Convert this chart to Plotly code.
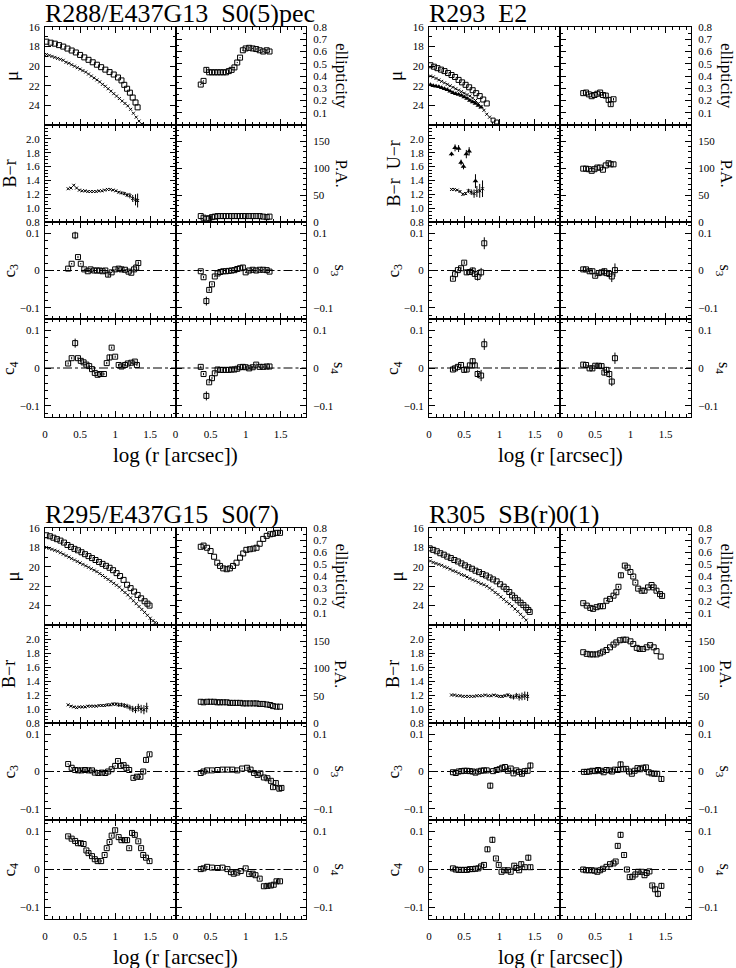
import plotly.graph_objects as go

W, H = 736, 968
SERIF = "Liberation Serif, DejaVu Serif, serif"

# ======================= R288/E437G13 S0(5)pec =======================
r288_mu_sq_x = [0.02,0.08,0.14,0.2,0.26,0.32,0.38,0.44,0.5,0.56,0.62,0.68,0.74,0.8,0.86,0.92,0.98,1.04,1.09,1.13,1.17,1.21,1.25,1.29,1.32]
r288_mu_sq = [17.5,17.6,17.7,17.85,18.0,18.2,18.4,18.6,18.85,19.1,19.35,19.6,19.85,20.1,20.35,20.6,20.85,21.15,21.45,21.9,22.3,22.7,23.2,23.7,24.2]
r288_mu_cr_x = [0.02,0.06,0.10,0.14,0.18,0.22,0.26,0.30,0.34,0.38,0.42,0.46,0.50,0.54,0.58,0.62,0.66,0.70,0.74,0.78,0.82,0.86,0.90,0.94,0.98,1.02,1.06,1.10,1.14,1.18,1.22,1.26,1.30,1.34,1.38]
r288_mu_cr = [18.8,18.9,19.0,19.1,19.2,19.3,19.4,19.6,19.7,19.85,20.0,20.15,20.3,20.45,20.6,20.8,21.0,21.2,21.4,21.6,21.85,22.05,22.3,22.55,22.8,23.05,23.3,23.55,23.8,24.05,24.4,24.8,25.2,25.6,25.9]
r288_ell_x = [0.36,0.40,0.44,0.48,0.52,0.56,0.60,0.64,0.68,0.72,0.76,0.80,0.84,0.88,0.92,0.96,1.00,1.05,1.10,1.15,1.20,1.25,1.30,1.34]
r288_ell = [0.33,0.36,0.45,0.43,0.43,0.43,0.43,0.43,0.43,0.43,0.44,0.45,0.47,0.51,0.55,0.61,0.625,0.63,0.625,0.62,0.61,0.60,0.61,0.60]
r288_ell_err = [0.005,0.005,0.02,0.005,0.005,0.005,0.005,0.005,0.005,0.005,0.005,0.005,0.005,0.005,0.005,0.005,0.005,0.005,0.005,0.005,0.005,0.005,0.005,0.005]
r288_pa = [11,8,6,7,9,10,11,11,11,11,11,11,11,11,11,11,11,11,11,11,11,10,9,10]
r288_br_x = [0.33,0.37,0.41,0.45,0.49,0.53,0.57,0.61,0.65,0.69,0.73,0.77,0.81,0.85,0.89,0.93,0.97,1.01,1.05,1.09,1.13,1.17,1.21,1.25,1.29,1.32]
r288_br = [1.28,1.29,1.33,1.29,1.26,1.25,1.25,1.24,1.24,1.24,1.24,1.25,1.25,1.26,1.27,1.27,1.26,1.25,1.23,1.22,1.21,1.19,1.18,1.14,1.12,1.11]
r288_br_err = [0.005,0.005,0.005,0.005,0.005,0.005,0.005,0.005,0.005,0.005,0.005,0.005,0.005,0.005,0.005,0.005,0.005,0.01,0.015,0.02,0.025,0.03,0.04,0.05,0.08,0.1]
r288_c3_x = [0.33,0.38,0.43,0.47,0.51,0.56,0.61,0.65,0.70,0.74,0.78,0.82,0.86,0.90,0.95,1.00,1.05,1.09,1.14,1.19,1.23,1.27,1.30,1.33]
r288_c3 = [0.005,0.018,0.094,0.036,0.018,0.003,-0.002,0.003,0.0,0.0,0.0,-0.002,0.0,-0.011,-0.005,0.003,0.005,0.003,0.002,-0.003,-0.006,0.003,0.008,0.02]
r288_c3_err = [0.002,0.002,0.01,0.003,0.002,0.002,0.002,0.002,0.002,0.002,0.002,0.002,0.002,0.007,0.002,0.002,0.002,0.002,0.002,0.002,0.002,0.002,0.003,0.004]
r288_s3 = [-0.002,-0.018,-0.082,-0.052,-0.037,-0.016,-0.008,-0.004,-0.002,-0.002,-0.001,0.0,0.001,0.004,0.006,0.008,-0.005,0.0,0.002,0.0,0.002,0.002,0.001,-0.003]
r288_s3_err = [0.002,0.003,0.012,0.004,0.003,0.002,0.002,0.002,0.002,0.002,0.002,0.002,0.002,0.002,0.002,0.006,0.002,0.002,0.002,0.002,0.002,0.002,0.002,0.002]
r288_c4_x = [0.33,0.38,0.43,0.47,0.51,0.55,0.59,0.63,0.67,0.71,0.75,0.79,0.84,0.88,0.92,0.95,1.00,1.05,1.09,1.14,1.18,1.23,1.28,1.31]
r288_c4 = [0.012,0.026,0.066,0.026,0.019,0.015,0.009,0.005,-0.003,-0.013,-0.018,-0.016,-0.016,0.013,0.028,0.054,0.030,0.008,0.004,0.008,0.012,0.014,0.017,0.008]
r288_c4_err = [0.003,0.003,0.012,0.003,0.003,0.003,0.003,0.003,0.003,0.003,0.003,0.003,0.003,0.003,0.008,0.003,0.003,0.003,0.003,0.003,0.003,0.003,0.003,0.003]
r288_s4 = [0.003,-0.016,-0.074,-0.038,-0.027,-0.014,-0.004,-0.005,-0.005,-0.005,-0.005,-0.004,-0.004,-0.002,0.002,0.003,0.002,-0.001,0.002,0.009,0.003,0.003,0.004,0.004]
r288_s4_err = [0.003,0.003,0.012,0.003,0.003,0.003,0.003,0.003,0.003,0.003,0.003,0.003,0.003,0.003,0.003,0.003,0.003,0.003,0.003,0.003,0.003,0.003,0.003,0.003]

# ======================= R293 E2 =======================
r293_mu_sq_x = [0.02,0.07,0.12,0.17,0.22,0.27,0.32,0.37,0.42,0.47,0.52,0.57,0.62,0.67,0.72,0.77,0.82]
r293_mu_sq = [19.9,20.05,20.2,20.35,20.5,20.7,20.9,21.1,21.4,21.65,21.9,22.15,22.45,22.75,23.05,23.4,23.8]
r293_mu_cr_x = [0.02,0.06,0.10,0.14,0.18,0.22,0.26,0.30,0.34,0.38,0.42,0.46,0.50,0.54,0.58,0.62,0.66,0.70,0.74,0.78,0.82,0.86]
r293_mu_cr = [21.0,21.1,21.25,21.4,21.55,21.7,21.85,22.0,22.15,22.3,22.45,22.6,22.75,22.9,23.05,23.25,23.5,23.8,24.15,24.5,24.9,25.2]
r293_mu_ext_x = [0.91,0.96]
r293_mu_ext = [25.5,25.7]
r293_mu_tr_x = [0.02,0.06,0.10,0.14,0.18,0.22,0.26,0.30,0.34,0.38,0.42,0.46,0.50,0.54,0.58,0.62,0.66,0.70,0.74]
r293_mu_tr = [21.9,22.0,22.05,22.1,22.2,22.3,22.4,22.55,22.7,22.8,22.9,23.0,23.15,23.3,23.5,23.65,23.8,24.0,24.2]
r293_ell_x = [0.33,0.37,0.41,0.45,0.49,0.53,0.57,0.61,0.65,0.69,0.72,0.76]
r293_ell = [0.26,0.265,0.25,0.235,0.245,0.255,0.265,0.245,0.24,0.205,0.17,0.21]
r293_ell_err = [0.005,0.005,0.005,0.005,0.005,0.005,0.005,0.008,0.01,0.02,0.015,0.01]
r293_pa = [99,99,98,95,98,101,101,97,105,109,107,107]
r293_br_x = [0.32,0.36,0.40,0.44,0.48,0.52,0.56,0.60,0.64,0.68,0.72,0.76]
r293_br = [1.27,1.27,1.26,1.24,1.20,1.21,1.25,1.23,1.21,1.24,1.25,1.28]
r293_br_err = [0.01,0.01,0.01,0.015,0.02,0.02,0.03,0.04,0.06,0.08,0.1,0.12]
r293_ur_x = [0.32,0.37,0.42,0.455,0.49,0.53,0.57,0.66]
r293_ur = [1.78,1.87,1.86,1.66,1.60,1.78,1.82,1.39]
r293_ur_err = [0.03,0.05,0.05,0.04,0.04,0.06,0.06,0.1]
r293_c3_x = [0.34,0.37,0.41,0.455,0.50,0.535,0.58,0.62,0.65,0.69,0.74,0.785]
r293_c3 = [-0.022,-0.01,0.001,0.006,0.021,-0.005,-0.004,0.0,-0.009,-0.017,-0.005,0.073]
r293_c3_err = [0.003,0.003,0.003,0.004,0.004,0.006,0.006,0.008,0.008,0.01,0.012,0.016]
r293_s3_x = [0.33,0.37,0.42,0.46,0.50,0.55,0.59,0.63,0.66,0.70,0.735,0.78]
r293_s3 = [0.003,0.003,-0.002,-0.002,-0.014,-0.007,-0.005,-0.002,-0.007,-0.009,-0.016,0.001]
r293_s3_err = [0.003,0.003,0.003,0.003,0.004,0.005,0.006,0.008,0.008,0.01,0.015,0.018]
r293_c4 = [-0.004,-0.001,0.003,0.008,-0.005,-0.004,0.007,0.018,0.007,-0.016,-0.02,0.063]
r293_c4_err = [0.003,0.003,0.003,0.004,0.005,0.005,0.006,0.008,0.008,0.01,0.015,0.015]
r293_s4 = [0.009,0.008,-0.001,-0.001,0.006,0.006,0.005,-0.012,-0.005,-0.016,-0.036,0.026]
r293_s4_err = [0.003,0.003,0.003,0.004,0.005,0.005,0.006,0.008,0.008,0.01,0.012,0.015]

# ======================= R295/E437G15 S0(7) =======================
r295_mu_sq_x = [0.02,0.07,0.12,0.17,0.22,0.27,0.32,0.37,0.42,0.47,0.52,0.57,0.62,0.67,0.72,0.77,0.82,0.87,0.92,0.97,1.02,1.07,1.12,1.17,1.22,1.27,1.32,1.37,1.42,1.46,1.49]
r295_mu_sq = [16.75,16.85,17.0,17.15,17.3,17.5,17.75,17.95,18.15,18.3,18.5,18.7,18.9,19.1,19.3,19.5,19.7,19.9,20.1,20.35,20.65,20.95,21.35,21.85,22.2,22.55,22.9,23.25,23.55,23.8,24.0]
r295_mu_cr_x = [0.02,0.06,0.10,0.14,0.18,0.22,0.26,0.30,0.34,0.38,0.42,0.46,0.50,0.54,0.58,0.62,0.66,0.70,0.74,0.78,0.82,0.86,0.90,0.94,0.98,1.02,1.06,1.10,1.14,1.18,1.22,1.26,1.30,1.34,1.38,1.42,1.46,1.50,1.54,1.57]
r295_mu_cr = [18.0,18.1,18.2,18.3,18.4,18.55,18.7,18.85,19.0,19.15,19.3,19.45,19.6,19.75,19.9,20.05,20.2,20.35,20.5,20.7,20.9,21.1,21.3,21.5,21.7,21.9,22.1,22.4,22.65,22.9,23.2,23.5,23.8,24.1,24.4,24.7,25.0,25.3,25.55,25.75]
r295_ell_x = [0.36,0.40,0.45,0.50,0.55,0.595,0.635,0.68,0.73,0.775,0.82,0.87,0.92,0.965,1.01,1.06,1.11,1.155,1.20,1.25,1.30,1.35,1.39,1.44,1.49]
r295_ell = [0.645,0.655,0.637,0.61,0.563,0.514,0.487,0.467,0.46,0.467,0.487,0.514,0.555,0.59,0.62,0.625,0.63,0.637,0.67,0.71,0.735,0.748,0.752,0.76,0.76]
r295_pa = [39,38,39,39,39,38,38,38,38,37,37,37,37,36,36,36,36,36,35,35,34,33,31,30,30]
r295_br_x = [0.33,0.37,0.41,0.45,0.49,0.53,0.57,0.61,0.65,0.69,0.73,0.77,0.81,0.85,0.89,0.93,0.97,1.01,1.05,1.09,1.13,1.17,1.21,1.25,1.29,1.33,1.37,1.41,1.45]
r295_br = [1.06,1.04,1.03,1.02,1.03,1.03,1.03,1.04,1.04,1.04,1.04,1.05,1.05,1.05,1.06,1.06,1.07,1.07,1.06,1.06,1.05,1.04,1.02,1.0,0.99,1.02,1.0,0.99,1.02]
r295_br_err = [0.01,0.01,0.01,0.01,0.01,0.01,0.01,0.01,0.01,0.01,0.01,0.01,0.015,0.015,0.02,0.02,0.025,0.025,0.03,0.03,0.035,0.035,0.04,0.045,0.05,0.055,0.06,0.065,0.07]
r295_c3_x = [0.33,0.38,0.43,0.47,0.52,0.57,0.62,0.67,0.71,0.76,0.81,0.86,0.90,0.95,1.00,1.04,1.08,1.12,1.16,1.20,1.26,1.31,1.36,1.40,1.44,1.49]
r295_c3 = [0.02,0.01,0.004,0.003,0.003,0.004,0.003,0.003,-0.003,-0.004,-0.003,-0.004,0.0,0.006,0.015,0.028,0.015,0.017,0.01,0.004,-0.017,-0.014,-0.014,0.0,0.031,0.046]
r295_c3_err = [0.002,0.002,0.002,0.002,0.002,0.002,0.002,0.002,0.002,0.002,0.002,0.002,0.002,0.002,0.002,0.003,0.002,0.002,0.002,0.002,0.003,0.003,0.003,0.004,0.006,0.005]
r295_s3_x = [0.36,0.40,0.45,0.52,0.60,0.67,0.74,0.81,0.88,0.95,1.02,1.07,1.12,1.17,1.21,1.26,1.31,1.36,1.39,1.43,1.48,1.51]
r295_s3 = [-0.004,0.0,0.003,0.003,0.004,0.005,0.005,0.005,0.003,0.008,0.01,0.005,-0.004,-0.009,-0.005,-0.016,-0.018,-0.025,-0.042,-0.031,-0.046,-0.044]
r295_s3_err = [0.002,0.002,0.002,0.002,0.002,0.002,0.002,0.002,0.002,0.002,0.003,0.003,0.003,0.003,0.003,0.003,0.004,0.004,0.005,0.005,0.005,0.005]
r295_c4_x = [0.33,0.38,0.43,0.47,0.51,0.55,0.59,0.62,0.67,0.71,0.75,0.80,0.85,0.88,0.92,0.95,1.00,1.05,1.09,1.14,1.17,1.20,1.24,1.28,1.33,1.37,1.40,1.44,1.49]
r295_c4 = [0.087,0.081,0.075,0.069,0.069,0.067,0.05,0.043,0.035,0.027,0.022,0.022,0.038,0.056,0.072,0.089,0.103,0.085,0.077,0.077,0.077,0.056,0.096,0.091,0.074,0.056,0.038,0.031,0.022]
r295_c4_err = [0.003,0.003,0.003,0.003,0.003,0.003,0.003,0.003,0.003,0.003,0.003,0.003,0.003,0.003,0.003,0.003,0.005,0.003,0.003,0.003,0.003,0.003,0.006,0.006,0.003,0.003,0.003,0.003,0.004]
r295_s4_x = [0.36,0.40,0.45,0.52,0.60,0.67,0.74,0.79,0.83,0.88,0.93,1.00,1.05,1.10,1.14,1.20,1.26,1.31,1.36,1.40,1.44,1.49]
r295_s4 = [0.001,0.003,0.007,0.005,0.004,0.005,0.001,-0.007,-0.011,-0.008,-0.004,0.003,-0.012,-0.011,-0.015,-0.024,-0.044,-0.043,-0.042,-0.04,-0.031,-0.031]
r295_s4_err = [0.002,0.002,0.002,0.002,0.002,0.002,0.002,0.002,0.002,0.002,0.002,0.002,0.003,0.003,0.003,0.003,0.005,0.005,0.005,0.005,0.005,0.005]

# ======================= R305 SB(r)0(1) =======================
r305_mu_sq_x = [0.01,0.06,0.11,0.16,0.21,0.26,0.31,0.36,0.41,0.46,0.51,0.56,0.61,0.66,0.71,0.76,0.81,0.86,0.91,0.96,1.01,1.06,1.10,1.14,1.18,1.22,1.26,1.30,1.34,1.38,1.41,1.43]
r305_mu_sq = [18.1,18.25,18.4,18.6,18.75,18.95,19.1,19.3,19.45,19.65,19.85,20.05,20.2,20.4,20.55,20.75,20.9,21.1,21.3,21.5,21.8,22.05,22.3,22.6,22.95,23.2,23.45,23.7,23.95,24.2,24.45,24.65]
r305_mu_cr_x = [0.02,0.06,0.10,0.14,0.18,0.22,0.26,0.30,0.34,0.38,0.42,0.46,0.50,0.54,0.58,0.62,0.66,0.70,0.74,0.78,0.82,0.86,0.90,0.94,0.98,1.02,1.06,1.10,1.14,1.18,1.22,1.26,1.30,1.34,1.38]
r305_mu_cr = [19.4,19.55,19.65,19.75,19.85,20.0,20.1,20.25,20.4,20.5,20.65,20.8,20.9,21.05,21.2,21.35,21.45,21.6,21.75,21.85,22.0,22.2,22.4,22.65,22.85,23.1,23.35,23.6,23.8,24.05,24.35,24.6,24.9,25.2,25.5]
r305_ell_x = [0.33,0.38,0.43,0.47,0.52,0.57,0.61,0.66,0.71,0.76,0.80,0.83,0.865,0.92,0.96,1.00,1.04,1.07,1.11,1.16,1.20,1.25,1.30,1.33,1.37,1.42,1.45]
r305_ell = [0.18,0.16,0.141,0.133,0.147,0.155,0.155,0.2,0.215,0.242,0.27,0.315,0.41,0.49,0.473,0.437,0.4,0.35,0.3,0.283,0.283,0.31,0.33,0.31,0.283,0.255,0.24]
r305_ell_err = [0.005,0.005,0.005,0.005,0.005,0.005,0.005,0.005,0.005,0.005,0.005,0.008,0.02,0.008,0.005,0.005,0.005,0.005,0.005,0.005,0.005,0.005,0.005,0.005,0.008,0.01,0.015]
r305_pa_x = [0.33,0.38,0.43,0.47,0.52,0.57,0.61,0.66,0.71,0.76,0.80,0.85,0.90,0.94,1.00,1.04,1.09,1.13,1.18,1.23,1.28,1.33,1.37,1.43]
r305_pa = [130,127,126,126,126,128,131,134,139,144,148,152,153,153,150,145,138,136,136,139,143,139,132,122]
r305_br_x = [0.32,0.36,0.40,0.44,0.48,0.52,0.56,0.60,0.64,0.68,0.72,0.76,0.80,0.84,0.88,0.92,0.96,1.00,1.04,1.08,1.12,1.16,1.20,1.24,1.28,1.32,1.36,1.40]
r305_br = [1.20,1.20,1.19,1.19,1.18,1.18,1.18,1.18,1.18,1.19,1.19,1.19,1.2,1.19,1.19,1.2,1.19,1.18,1.18,1.19,1.2,1.18,1.17,1.19,1.17,1.18,1.19,1.18]
r305_br_err = [0.005,0.005,0.005,0.005,0.005,0.005,0.005,0.005,0.005,0.005,0.005,0.005,0.005,0.005,0.01,0.01,0.015,0.015,0.02,0.02,0.025,0.03,0.035,0.04,0.05,0.055,0.06,0.065]
r305_c3_x = [0.34,0.38,0.42,0.46,0.50,0.54,0.58,0.62,0.66,0.70,0.74,0.78,0.82,0.87,0.91,0.96,1.00,1.04,1.08,1.12,1.16,1.20,1.24,1.28,1.32,1.36,1.40,1.44]
r305_c3 = [-0.002,-0.004,0.0,0.001,0.002,0.002,0.001,0.0,-0.003,0.0,0.002,0.003,0.003,-0.038,0.001,0.004,0.006,0.01,0.012,0.002,0.008,-0.005,0.003,-0.001,-0.006,0.001,0.002,0.016]
r305_c3_err = [0.002,0.002,0.002,0.002,0.002,0.002,0.002,0.002,0.002,0.002,0.002,0.002,0.002,0.008,0.002,0.002,0.002,0.002,0.002,0.002,0.003,0.003,0.003,0.003,0.006,0.003,0.003,0.008]
r305_s3_x = [0.34,0.38,0.42,0.46,0.50,0.54,0.58,0.62,0.66,0.70,0.74,0.78,0.82,0.86,0.90,0.94,0.98,1.02,1.06,1.10,1.14,1.18,1.22,1.26,1.30,1.34,1.38,1.44]
r305_s3 = [-0.001,-0.001,0.0,0.002,0.001,0.004,0.002,-0.002,0.004,0.003,0.0,0.005,0.004,0.019,0.006,0.007,0.0,-0.006,0.002,0.009,0.006,0.01,0.011,-0.002,-0.005,-0.006,-0.006,-0.02]
r305_s3_err = [0.002,0.002,0.002,0.002,0.002,0.002,0.002,0.002,0.002,0.002,0.002,0.002,0.003,0.008,0.003,0.003,0.003,0.003,0.003,0.003,0.003,0.003,0.003,0.003,0.003,0.004,0.004,0.007]
r305_c4_x = [0.34,0.38,0.42,0.46,0.50,0.54,0.58,0.62,0.66,0.70,0.74,0.78,0.83,0.90,0.95,0.99,1.03,1.07,1.12,1.16,1.21,1.24,1.28,1.31,1.36,1.41,1.44]
r305_c4 = [0.003,0.0,-0.001,-0.001,-0.001,-0.001,0.001,0.001,0.002,0.003,0.008,0.012,0.053,0.078,0.029,0.012,-0.006,-0.002,-0.002,-0.006,0.01,0.004,-0.002,0.014,0.006,0.031,0.006]
r305_c4_err = [0.002,0.002,0.002,0.002,0.002,0.002,0.002,0.002,0.002,0.002,0.002,0.003,0.007,0.008,0.003,0.004,0.003,0.003,0.003,0.003,0.003,0.003,0.003,0.006,0.004,0.008,0.006]
r305_s4_x = [0.33,0.37,0.41,0.45,0.49,0.53,0.57,0.61,0.66,0.71,0.76,0.79,0.82,0.86,0.91,0.95,0.99,1.03,1.07,1.11,1.16,1.20,1.23,1.27,1.31,1.35,1.39,1.44]
r305_s4 = [0.0,-0.002,-0.002,-0.002,-0.003,-0.006,-0.002,0.002,0.007,0.014,0.016,0.021,0.062,0.091,0.038,0.0,-0.02,-0.019,-0.013,-0.006,-0.006,-0.015,-0.009,-0.005,-0.042,-0.052,-0.064,-0.043]
r305_s4_err = [0.002,0.002,0.002,0.002,0.002,0.002,0.002,0.002,0.002,0.002,0.002,0.003,0.006,0.008,0.004,0.003,0.003,0.003,0.003,0.003,0.003,0.003,0.003,0.003,0.004,0.008,0.009,0.008]

# ---------------------------------------------------------------------------
SQ = dict(symbol="square-open", size=5, color="black", line=dict(width=1, color="black"))
SQS = dict(symbol="square-open", size=4, color="black", line=dict(width=1, color="black"))
CR = dict(symbol="x-thin-open", size=3, color="black", line=dict(width=1, color="black"))
TR = dict(symbol="triangle-up", size=5, color="black", line=dict(width=0))

blocks = [
    dict(title="R288/E437G13\u00a0\u00a0S0(5)pec", xs=[45, 175.5, 306], ys=[27, 125, 222, 319, 417],
         yl2="B\u2212r",
         panels={
             (0, 0): [(r288_mu_sq_x, r288_mu_sq, SQ, None), (r288_mu_cr_x, r288_mu_cr, CR, None)],
             (0, 1): [(r288_ell_x, r288_ell, SQ, r288_ell_err)],
             (1, 0): [(r288_br_x, r288_br, CR, r288_br_err)],
             (1, 1): [(r288_ell_x, r288_pa, SQ, None)],
             (2, 0): [(r288_c3_x, r288_c3, SQ, r288_c3_err)],
             (2, 1): [(r288_ell_x, r288_s3, SQ, r288_s3_err)],
             (3, 0): [(r288_c4_x, r288_c4, SQ, r288_c4_err)],
             (3, 1): [(r288_ell_x, r288_s4, SQ, r288_s4_err)],
         }),
    dict(title="R293\u00a0\u00a0E2", xs=[429, 560, 691], ys=[27, 125, 222, 319, 417],
         yl2="B\u2212r\u00a0\u00a0U\u2212r",
         panels={
             (0, 0): [(r293_mu_sq_x, r293_mu_sq, SQ, None), (r293_mu_cr_x, r293_mu_cr, CR, None),
                      (r293_mu_ext_x, r293_mu_ext, SQS, None), (r293_mu_tr_x, r293_mu_tr, TR, None)],
             (0, 1): [(r293_ell_x, r293_ell, SQ, r293_ell_err)],
             (1, 0): [(r293_br_x, r293_br, CR, r293_br_err), (r293_ur_x, r293_ur, TR, r293_ur_err)],
             (1, 1): [(r293_ell_x, r293_pa, SQ, None)],
             (2, 0): [(r293_c3_x, r293_c3, SQ, r293_c3_err)],
             (2, 1): [(r293_s3_x, r293_s3, SQ, r293_s3_err)],
             (3, 0): [(r293_c3_x, r293_c4, SQ, r293_c4_err)],
             (3, 1): [(r293_s3_x, r293_s4, SQ, r293_s4_err)],
         }),
    dict(title="R295/E437G15\u00a0\u00a0S0(7)", xs=[45, 175.5, 306], ys=[528, 625, 723, 820, 919],
         yl2="B\u2212r",
         panels={
             (0, 0): [(r295_mu_sq_x, r295_mu_sq, SQ, None), (r295_mu_cr_x, r295_mu_cr, CR, None)],
             (0, 1): [(r295_ell_x, r295_ell, SQ, None)],
             (1, 0): [(r295_br_x, r295_br, CR, r295_br_err)],
             (1, 1): [(r295_ell_x, r295_pa, SQ, None)],
             (2, 0): [(r295_c3_x, r295_c3, SQ, r295_c3_err)],
             (2, 1): [(r295_s3_x, r295_s3, SQ, r295_s3_err)],
             (3, 0): [(r295_c4_x, r295_c4, SQ, r295_c4_err)],
             (3, 1): [(r295_s4_x, r295_s4, SQ, r295_s4_err)],
         }),
    dict(title="R305\u00a0\u00a0SB(r)0(1)", xs=[429, 560, 691], ys=[528, 625, 723, 820, 919],
         yl2="B\u2212r",
         panels={
             (0, 0): [(r305_mu_sq_x, r305_mu_sq, SQ, None), (r305_mu_cr_x, r305_mu_cr, CR, None)],
             (0, 1): [(r305_ell_x, r305_ell, SQ, r305_ell_err)],
             (1, 0): [(r305_br_x, r305_br, CR, r305_br_err)],
             (1, 1): [(r305_pa_x, r305_pa, SQ, None)],
             (2, 0): [(r305_c3_x, r305_c3, SQ, r305_c3_err)],
             (2, 1): [(r305_s3_x, r305_s3, SQ, r305_s3_err)],
             (3, 0): [(r305_c4_x, r305_c4, SQ, r305_c4_err)],
             (3, 1): [(r305_s4_x, r305_s4, SQ, r305_s4_err)],
         }),
]

cs_vals = [-0.1, 0, 0.1]
cs_text = ["\u22120.1", "0", "0.1"]
Y_SPECS = {
    (0, 0): dict(range=[26, 16], tickvals=[16, 18, 20, 22, 24], ticktext=["16", "18", "20", "22", "24"], mdt=1, m0=16),
    (0, 1): dict(range=[0, 0.8], tickvals=[0.1, 0.2, 0.3, 0.4, 0.5, 0.6, 0.7, 0.8],
                 ticktext=["0.1", "0.2", "0.3", "0.4", "0.5", "0.6", "0.7", "0.8"], mdt=0.05, m0=0),
    (1, 0): dict(range=[0.8, 2.2], tickvals=[0.8, 1.0, 1.2, 1.4, 1.6, 1.8, 2.0],
                 ticktext=["0.8", "1.0", "1.2", "1.4", "1.6", "1.8", "2.0"], mdt=0.05, m0=0.8),
    (1, 1): dict(range=[0, 180], tickvals=[0, 50, 100, 150], ticktext=["0", "50", "100", "150"], mdt=10, m0=0),
    (2, 0): dict(range=[-0.13, 0.13], tickvals=cs_vals, ticktext=cs_text, mdt=0.02, m0=0),
    (2, 1): dict(range=[-0.13, 0.13], tickvals=cs_vals, ticktext=cs_text, mdt=0.02, m0=0),
    (3, 0): dict(range=[-0.13, 0.13], tickvals=cs_vals, ticktext=cs_text, mdt=0.02, m0=0),
    (3, 1): dict(range=[-0.13, 0.13], tickvals=cs_vals, ticktext=cs_text, mdt=0.02, m0=0),
}
X_RANGE = [0, 1.86]
X_TICKS = [0, 0.5, 1, 1.5]
X_TEXT = ["0", "0.5", "1", "1.5"]

TICKFONT = dict(family=SERIF, size=11, color="black")

fig = go.Figure()
layout = {}
shapes = []
annotations = []


def axname(prefix, n):
    return prefix if n == 1 else f"{prefix}{n}"


n = 0
for blk in blocks:
    xs, ys = blk["xs"], blk["ys"]
    for r in range(4):
        for c in range(2):
            n += 1
            xa, ya = axname("x", n), axname("y", n)
            xdom = [xs[c] / W, xs[c + 1] / W]
            ydom = [1 - ys[r + 1] / H, 1 - ys[r] / H]
            common = dict(showline=True, linecolor="black", linewidth=1, mirror="ticks",
                          ticks="inside", ticklen=6, tickwidth=1, tickcolor="black",
                          showgrid=False, zeroline=False, tickfont=TICKFONT)
            xax = dict(common, domain=xdom, anchor=ya, range=X_RANGE, tickmode="array",
                       tickvals=X_TICKS, ticktext=X_TEXT, showticklabels=(r == 3), ticklabelstandoff=7,
                       minor=dict(ticks="inside", ticklen=3, tickwidth=1, tickcolor="black", dtick=0.1, tick0=0, showgrid=False))
            sp = Y_SPECS[(r, c)]
            yax = dict(common, domain=ydom, anchor=xa, range=sp["range"], tickmode="array",
                       tickvals=sp["tickvals"], ticktext=sp["ticktext"], side="left" if c == 0 else "right",
                       ticklabelstandoff=2 if c == 0 else 4,
                       minor=dict(ticks="inside", ticklen=3, tickwidth=1, tickcolor="black", dtick=sp["mdt"], tick0=sp["m0"], showgrid=False))
            layout["xaxis" if n == 1 else f"xaxis{n}"] = xax
            layout["yaxis" if n == 1 else f"yaxis{n}"] = yax
            for (x, y, m, e) in blk["panels"][(r, c)]:
                fig.add_trace(go.Scatter(
                    x=x, y=y, mode="markers", marker=m, xaxis=xa, yaxis=ya, showlegend=False, hoverinfo="skip",
                    error_y=(dict(type="data", array=e, visible=True, thickness=1, width=0, color="black")
                             if e is not None else None)))
            if r >= 2:
                shapes.append(dict(type="line", xref=f"{xa} domain", x0=0, x1=1, yref=ya, y0=0, y1=0,
                                   line=dict(color="black", width=1, dash="dashdot"), layer="below"))

    def ann(text, px, py, size, angle=0, xanchor="center"):
        annotations.append(dict(text=text, x=px / W, y=1 - py / H, xref="paper", yref="paper",
                                showarrow=False, textangle=angle, xanchor=xanchor, yanchor="middle",
                                font=dict(family=SERIF, size=size, color="black")))

    ann(blk["title"], xs[0] - 2, ys[0] - 14, 26, xanchor="left")
    ann("log (r [arcsec])", xs[1], ys[4] + 38, 21)
    rowc = [(ys[i] + ys[i + 1]) / 2 for i in range(4)]
    ann("\u03bc", xs[0] - 33, rowc[0], 19, angle=-90)
    ann(blk["yl2"], xs[0] - 36, rowc[1], 18, angle=-90)
    ann("c<sub>3</sub>", xs[0] - 35, rowc[2], 17, angle=-90)
    ann("c<sub>4</sub>", xs[0] - 35, rowc[3], 17, angle=-90)
    ann("ellipticity", xs[2] + 35, rowc[0], 17, angle=90)
    ann("P.A.", xs[2] + 35, rowc[1], 17, angle=90)
    ann("s<sub>3</sub>", xs[2] + 33, rowc[2], 16, angle=90)
    ann("s<sub>4</sub>", xs[2] + 33, rowc[3], 16, angle=90)

layout.update(dict(width=W, height=H, margin=dict(l=0, r=0, t=0, b=0, autoexpand=False),
                   paper_bgcolor="white", plot_bgcolor="rgba(0,0,0,0)", shapes=shapes, annotations=annotations,
                   showlegend=False))
fig.update_layout(**layout)
fig.write_html("out.html", config={"displayModeBar": False, "staticPlot": True},
               post_script="document.body.style.margin='0';document.body.style.padding='0';document.body.style.overflow='hidden';")
